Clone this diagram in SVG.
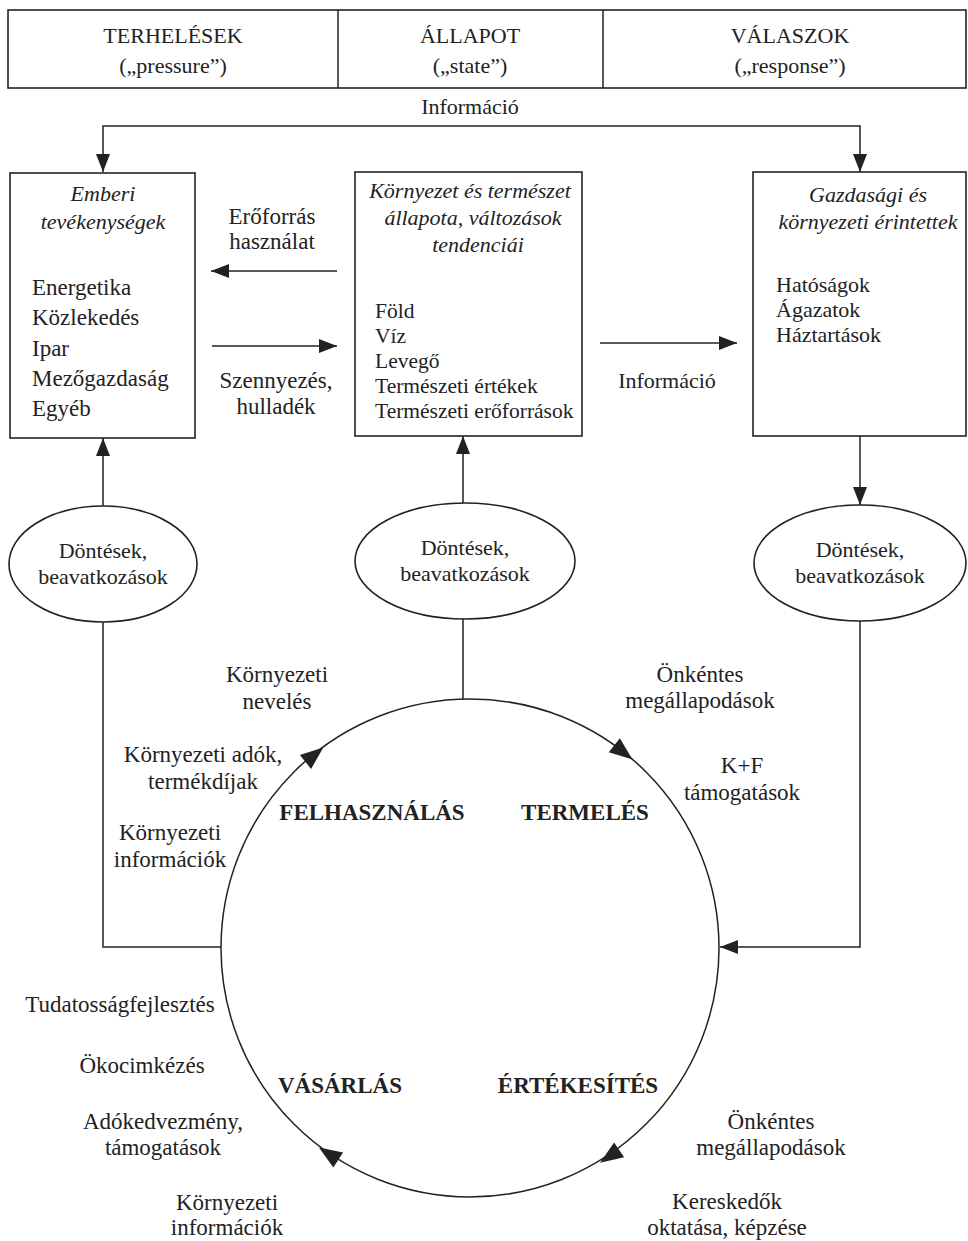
<svg xmlns="http://www.w3.org/2000/svg" width="968" height="1241" viewBox="0 0 968 1241">
<defs>
<style>
text{font-family:"Liberation Serif","Times New Roman",serif;fill:#222;font-size:22px}
.c{text-anchor:middle}
.i{font-style:italic}
.b{font-weight:bold;font-size:23px}
.big{font-size:23px}
.sm{font-size:21.5px}
.box{fill:none;stroke:#222;stroke-width:1.6}
.ln{fill:none;stroke:#222;stroke-width:1.5}
.ah{fill:#222}
</style>
<marker id="arr" markerUnits="userSpaceOnUse" markerWidth="18" markerHeight="14" refX="18" refY="7" orient="auto">
<path d="M0,0 L18,7 L0,14 z" fill="#222"/>
</marker>
</defs>
<rect width="968" height="1241" fill="#fff"/>

<g id="header">
<rect class="box" x="8" y="10" width="958" height="78"/>
<line class="ln" x1="338" y1="10" x2="338" y2="88"/>
<line class="ln" x1="603" y1="10" x2="603" y2="88"/>
<text class="c" x="173" y="43">TERHELÉSEK</text>
<text class="c" x="173" y="73">(„pressure”)</text>
<text class="c" x="470" y="43">ÁLLAPOT</text>
<text class="c" x="470" y="73">(„state”)</text>
<text class="c" x="790" y="43">VÁLASZOK</text>
<text class="c" x="790" y="73">(„response”)</text>
</g>

<g id="connectors">
<path class="ln" d="M470,126 H103 V172" marker-end="url(#arr)"/>
<path class="ln" d="M470,126 H860 V172" marker-end="url(#arr)"/>
<path class="ln" d="M337,271 H211" marker-end="url(#arr)"/>
<path class="ln" d="M212,346 H337" marker-end="url(#arr)"/>
<path class="ln" d="M600,343 H737" marker-end="url(#arr)"/>
<path class="ln" d="M103,506 V438" marker-end="url(#arr)"/>
<path class="ln" d="M463,503 V436" marker-end="url(#arr)"/>
<path class="ln" d="M860,436 V505" marker-end="url(#arr)"/>
<path class="ln" d="M463,699 V619"/>
<path class="ln" d="M221,947 H103 V622"/>
<path class="ln" d="M860,621 V947 H720" marker-end="url(#arr)"/>
</g>

<g id="label-info-top"><text class="c" x="470" y="114">Információ</text></g>

<g id="box-emberi">
<rect class="box" x="10" y="173" width="185" height="265"/>
<text class="c i" x="103" y="201">Emberi</text>
<text class="c i" x="103" y="229">tevékenységek</text>
<text class="big" x="32" y="295">Energetika</text>
<text class="big" x="32" y="325">Közlekedés</text>
<text class="big" x="32" y="356">Ipar</text>
<text class="big" x="32" y="386">Mezőgazdaság</text>
<text class="big" x="32" y="416">Egyéb</text>
</g>

<g id="label-eroforras">
<text class="c big" x="272" y="224">Erőforrás</text>
<text class="c big" x="272" y="249">használat</text>
</g>
<g id="label-szennyezes">
<text class="c big" x="276" y="388">Szennyezés,</text>
<text class="c big" x="276" y="414">hulladék</text>
</g>

<g id="box-kornyezet">
<rect class="box" x="355" y="172" width="227" height="264"/>
<text class="c i" x="470" y="198">Környezet és természet</text>
<text class="c i" x="473" y="225">állapota, változások</text>
<text class="c i" x="478" y="252">tendenciái</text>
<text class="sm" x="375" y="318">Föld</text>
<text class="sm" x="375" y="343">Víz</text>
<text class="sm" x="375" y="368">Levegő</text>
<text class="sm" x="375" y="393">Természeti értékek</text>
<text class="sm" x="375" y="418">Természeti erőforrások</text>
</g>

<g id="label-info-mid"><text class="c" x="667" y="388">Információ</text></g>

<g id="box-gazdasagi">
<rect class="box" x="753" y="172" width="213" height="264"/>
<text class="c i" x="868" y="202">Gazdasági és</text>
<text class="c i" x="868" y="229">környezeti érintettek</text>
<text x="776" y="292">Hatóságok</text>
<text x="776" y="317">Ágazatok</text>
<text x="776" y="342">Háztartások</text>
</g>

<g id="ellipse-1">
<ellipse class="box" cx="103" cy="564" rx="94" ry="58"/>
<text class="c" x="103" y="558">Döntések,</text>
<text class="c" x="103" y="584">beavatkozások</text>
</g>
<g id="ellipse-2">
<ellipse class="box" cx="465" cy="561" rx="110" ry="58"/>
<text class="c" x="465" y="555">Döntések,</text>
<text class="c" x="465" y="581">beavatkozások</text>
</g>
<g id="ellipse-3">
<ellipse class="box" cx="860" cy="563" rx="106" ry="58"/>
<text class="c" x="860" y="557">Döntések,</text>
<text class="c" x="860" y="583">beavatkozások</text>
</g>

<g id="cycle">
<circle class="ln" cx="470" cy="948" r="249"/>
<polygon class="ah" points="12,0 -11,-9 -11,9" transform="translate(314,755) rotate(-39)"/>
<polygon class="ah" points="12,0 -11,-9 -11,9" transform="translate(623,752) rotate(38)"/>
<polygon class="ah" points="12,0 -11,-9 -11,9" transform="translate(610,1156) rotate(146)"/>
<polygon class="ah" points="12,0 -11,-9 -11,9" transform="translate(329,1154) rotate(213)"/>
<text class="c b" x="372" y="820">FELHASZNÁLÁS</text>
<text class="c b" x="585" y="820">TERMELÉS</text>
<text class="c b" x="340" y="1093">VÁSÁRLÁS</text>
<text class="c b" x="578" y="1093">ÉRTÉKESÍTÉS</text>
</g>

<g id="labels-left">
<text class="c big" x="277" y="682">Környezeti</text>
<text class="c big" x="277" y="709">nevelés</text>
<text class="c big" x="203" y="762">Környezeti adók,</text>
<text class="c big" x="203" y="789">termékdíjak</text>
<text class="c big" x="170" y="840">Környezeti</text>
<text class="c big" x="170" y="867">információk</text>
<text class="c big" x="120" y="1012">Tudatosságfejlesztés</text>
<text class="c big" x="142" y="1073">Ökocimkézés</text>
<text class="c big" x="163" y="1129">Adókedvezmény,</text>
<text class="c big" x="163" y="1155">támogatások</text>
<text class="c big" x="227" y="1210">Környezeti</text>
<text class="c big" x="227" y="1235">információk</text>
</g>

<g id="labels-right">
<text class="c big" x="700" y="682">Önkéntes</text>
<text class="c big" x="700" y="708">megállapodások</text>
<text class="c big" x="742" y="773">K+F</text>
<text class="c big" x="742" y="800">támogatások</text>
<text class="c big" x="771" y="1129">Önkéntes</text>
<text class="c big" x="771" y="1155">megállapodások</text>
<text class="c big" x="727" y="1209">Kereskedők</text>
<text class="c big" x="727" y="1235">oktatása, képzése</text>
</g>
</svg>
